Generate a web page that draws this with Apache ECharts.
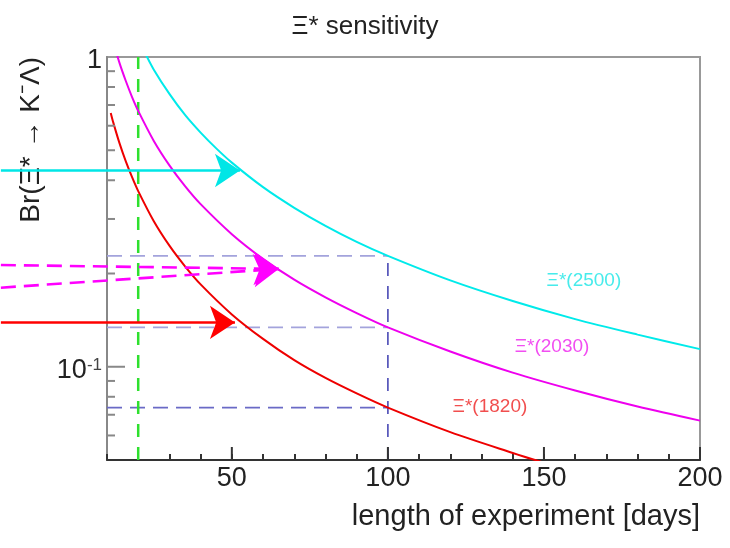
<!DOCTYPE html>
<html>
<head>
<meta charset="utf-8">
<title>Xi* sensitivity</title>
<script src="https://cdn.jsdelivr.net/npm/echarts@6/dist/echarts.min.js"></script>
<style>
	html, body { margin: 0; padding: 0; background: #fff; }
	#chartDiv { width: 730px; height: 548px; }
</style>
</head>
<body>
<div id="chartDiv"></div>
<script>
	// curves (days, Br)
	var cyanDays = [22, 25, 30, 35, 40, 45, 50, 60, 70, 80, 90, 100, 120, 140, 160, 180, 200];
	var cyanBr = [1.04, 0.91, 0.76, 0.65, 0.57, 0.507, 0.456, 0.38, 0.326, 0.285, 0.253, 0.228, 0.19, 0.163, 0.1425, 0.127, 0.114];
	var magentaDays = [12, 14, 16, 18, 20, 25, 30, 35, 40, 50, 60, 70, 80, 90, 100, 120, 140, 160, 180, 200];
	var magentaBr = [1.12, 0.957, 0.838, 0.744, 0.67, 0.536, 0.447, 0.383, 0.335, 0.268, 0.223, 0.191, 0.1675, 0.149, 0.134, 0.112, 0.0957, 0.0838, 0.0744, 0.067];
	var redDays = [11.2, 12, 14, 16, 18, 20, 25, 30, 35, 40, 50, 60, 70, 80, 90, 100, 120, 140, 150];
	var redBr = [0.66, 0.615, 0.527, 0.461, 0.41, 0.369, 0.295, 0.246, 0.211, 0.1845, 0.1476, 0.123, 0.105, 0.092, 0.082, 0.0738, 0.0615, 0.0527, 0.049];

	var curveNames = ['Ξ*(2500)', 'Ξ*(2030)', 'Ξ*(1820)'];
	var labelDays = [162.8, 152.6, 132.7];
	var labelBr = [0.1894, 0.116, 0.0743];

	// arrows: [startDay, startBr, endDay, endBr]
	var cyanArrow = [-24, 0.43, 52.6, 0.43];
	var redArrow = [-24, 0.139, 51, 0.139];
	var magentaArrowUp = [-24, 0.213, 65, 0.207];
	var magentaArrowLow = [-24, 0.180, 65, 0.207];

	// dashed reference lines
	var refDay = 100;
	var refBr = [0.228, 0.134, 0.0738];
	var greenDay = 20;

	// axes
	var xMin = 10, xMax = 200;
	var yMin = 0.05, yMax = 1;
	var xMajorTicks = [50, 100, 150, 200];
	var yMajorTicks = [0.1];
	var yMinorTicks = [0.06, 0.07, 0.08, 0.09, 0.2, 0.3, 0.4, 0.5, 0.6, 0.7, 0.8, 0.9];

	var font = 'Liberation Sans';

	function pairs(xs, ys) {
		var out = [];
		for (var i = 0; i < xs.length; i++) out.push([xs[i], ys[i]]);
		return out;
	}
	function curve(name, xs, ys, color) {
		return {
			name: name, type: 'line', data: pairs(xs, ys), smooth: 0.3,
			showSymbol: false, symbol: 'none', clip: true, z: 5,
			lineStyle: { color: color, width: 2 }
		};
	}
	function refLine(pts, color, dash) {
		return {
			type: 'line', data: pts, showSymbol: false, symbol: 'none', z: 3,
			lineStyle: { color: color, width: 1.6, type: dash }
		};
	}
	function arrow(a, color, dash, head) {
		return {
			type: 'lines', coordinateSystem: 'cartesian2d', clip: false, z: 6,
			symbol: ['none', head ? 'arrow' : 'none'], symbolSize: 25,
			lineStyle: { color: color, width: 2.6, type: dash, opacity: 1 },
			data: [{ coords: [[a[0], a[1]], [a[2], a[3]]] }]
		};
	}
	function ticks(values, onX, len, color) {
		var data = values.map(function (v) { return onX ? [v, yMin] : [xMin, v]; });
		return {
			type: 'custom', clip: false, z: 8, silent: true, data: data,
			renderItem: function (params, api) {
				var p = api.coord([api.value(0), api.value(1)]);
				return {
					type: 'line',
					shape: onX ? { x1: p[0], y1: p[1], x2: p[0], y2: p[1] - len }
					           : { x1: p[0], y1: p[1], x2: p[0] + len, y2: p[1] },
					style: { stroke: color, lineWidth: 2 }
				};
			}
		};
	}

	var labelColors = ['#19e6e6', '#ee22ee', '#ee2222'];
	var labelData = labelDays.map(function (d, i) {
		return {
			value: [d, labelBr[i]],
			label: { formatter: curveNames[i], color: labelColors[i] }
		};
	});

	var option = {
		animation: false,
		backgroundColor: '#fff',
		title: {
			text: 'Ξ* sensitivity', left: 'center', top: 9,
			textStyle: { fontFamily: font, fontSize: 26, fontWeight: 'normal', color: '#222' }
		},
		grid: { left: 107, right: 30, top: 57, bottom: 88, show: true, borderColor: '#999', borderWidth: 2 },
		xAxis: {
			type: 'value', min: xMin, max: xMax, interval: 10,
			splitLine: { show: false },
			axisLine: { lineStyle: { color: '#333', width: 2 } },
			axisTick: { inside: true, length: 6, lineStyle: { color: '#333', width: 2 } },
			axisLabel: {
				margin: 5, fontFamily: font, fontSize: 27, color: '#222',
				formatter: function (v) { return v % 50 === 0 ? String(v) : ''; }
			}
		},
		yAxis: {
			type: 'log', logBase: 10, min: yMin, max: yMax,
			splitLine: { show: false },
			axisLine: { show: true, lineStyle: { color: '#888', width: 2 } },
			axisTick: { show: false },
			axisLabel: {
				margin: 5, fontFamily: font, fontSize: 27, color: '#222',
				padding: [8, 0, 0, 0],
				formatter: function (v) {
					if (Math.abs(v - 1) < 1e-9) return '{b|1}';
					if (Math.abs(Math.log10(v) + 1) < 1e-6) return '{b|10}{s|-1}';
					return '';
				},
				rich: {
					b: { fontFamily: font, fontSize: 27, lineHeight: 28, color: '#222' },
					s: { fontFamily: font, fontSize: 17, lineHeight: 16, verticalAlign: 'top', color: '#444' }
				}
			}
		},
		graphic: [
			{
				type: 'text', left: 17, top: 57, rotation: Math.PI / 2,
				style: { text: 'Br(Ξ* → K⁻Λ)', fontFamily: font, fontSize: 28, fill: '#222' }
			},
			{
				type: 'text', right: 30, top: 502,
				style: { text: 'length of experiment [days]', fontFamily: font, fontSize: 29, fill: '#222' }
			}
		],
		series: [
			refLine([[xMin, refBr[0]], [refDay, refBr[0]]], '#a3a3dc', [15, 8]),
			refLine([[xMin, refBr[1]], [refDay, refBr[1]]], '#a3a3dc', [15, 8]),
			refLine([[xMin, refBr[2]], [refDay, refBr[2]]], '#6a6ac6', [15, 8]),
			refLine([[refDay, yMin], [refDay, refBr[0]]], '#4848b4', [13, 10]),
			{
				type: 'line', data: [[greenDay, yMin], [greenDay, yMax]], showSymbol: false, symbol: 'none', z: 4,
				lineStyle: { color: '#2ee02e', width: 2.5, type: [13, 10] }
			},
			curve(curveNames[0], cyanDays, cyanBr, '#00eaea'),
			curve(curveNames[1], magentaDays, magentaBr, '#ee00ee'),
			curve(curveNames[2], redDays, redBr, '#ee0000'),
			arrow(cyanArrow, '#00e6e6', 'solid', true),
			arrow(redArrow, '#ff0000', 'solid', true),
			arrow(magentaArrowUp, '#ff00ff', [15, 8], true),
			arrow(magentaArrowLow, '#ff00ff', [15, 8], true),
			{
				type: 'scatter', symbolSize: 0, z: 7, data: labelData,
				label: { show: true, position: 'inside', fontFamily: font, fontSize: 19 }
			},
			ticks(yMinorTicks, false, 8, '#888'),
			ticks(yMajorTicks, false, 18, '#888'),
			ticks(xMajorTicks, true, 13, '#333')
		]
	};

	var chart = echarts.init(document.getElementById('chartDiv'));
	chart.setOption(option);
</script>
</body>
</html>
